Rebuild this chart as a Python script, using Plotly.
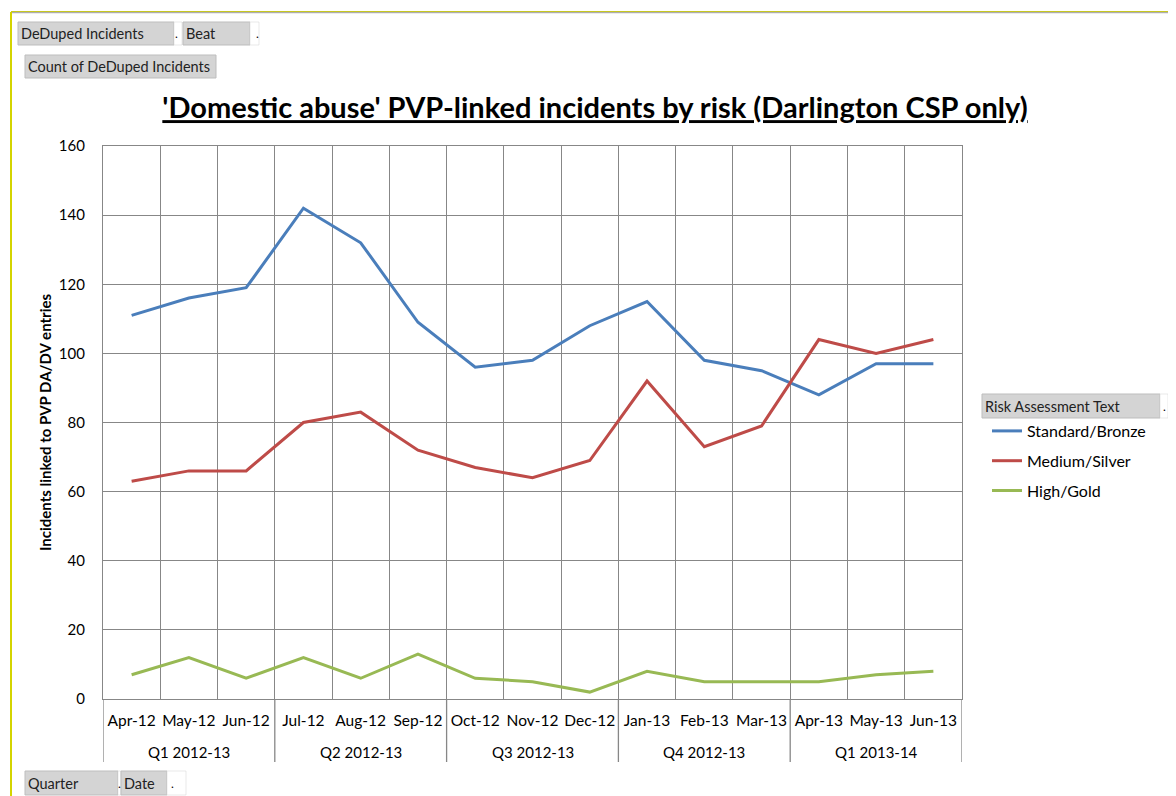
import plotly.graph_objects as go

months = ["Apr-12", "May-12", "Jun-12", "Jul-12", "Aug-12", "Sep-12", "Oct-12", "Nov-12",
          "Dec-12", "Jan-13", "Feb-13", "Mar-13", "Apr-13", "May-13", "Jun-13"]
quarters = ["Q1 2012-13", "Q2 2012-13", "Q3 2012-13", "Q4 2012-13", "Q1 2013-14"]
standard_bronze = [111, 116, 119, 142, 132, 109, 96, 98, 108, 115, 98, 95, 88, 97, 97]
medium_silver = [63, 66, 66, 80, 83, 72, 67, 64, 69, 92, 73, 79, 104, 100, 104]
high_gold = [7, 12, 6, 12, 6, 13, 6, 5, 2, 8, 5, 5, 5, 7, 8]

OFF = 8  # page body margin
W, H = 1176 - OFF, 796 - OFF
# plot area in screenshot pixels
L, R, T, B = 103, 962, 146, 699
pw, ph = R - L, B - T

def px(x):
    return (x - L) / pw

def py(y):
    return (B - y) / ph

FONT = "Lato, Calibri, sans-serif"
GRID = "#878787"

xpos = [i + 0.5 for i in range(len(months))]

fig = go.Figure()
series = [("Standard/Bronze", standard_bronze, "#4A7EBB"),
          ("Medium/Silver", medium_silver, "#BE4B48"),
          ("High/Gold", high_gold, "#98B954")]
for name, vals, col in series:
    fig.add_trace(go.Scatter(x=xpos, y=vals, mode="lines", name=name,
                             line=dict(color=col, width=3), legendgroup=name))

shapes = []
for q in range(len(quarters) + 1):
    shapes.append(dict(type="line", xref="x", yref="paper", x0=q * 3, x1=q * 3,
                       y0=0, y1=py(762), line=dict(color=GRID, width=1.3)))
shapes.append(dict(type="line", xref="paper", yref="paper", x0=px(11), x1=px(11),
                   y0=py(12), y1=py(800), line=dict(color="#D4D400", width=2)))
shapes.append(dict(type="line", xref="paper", yref="paper", x0=px(11), x1=px(1180),
                   y0=py(11.5), y1=py(11.5), line=dict(color="#C8C820", width=1)))
shapes.append(dict(type="line", xref="paper", yref="paper", x0=px(12), x1=px(1180),
                   y0=py(12.7), y1=py(12.7), line=dict(color="#9a9a9a", width=1)))

annotations = []
for q, qname in enumerate(quarters):
    annotations.append(dict(text=qname, x=q * 3 + 1.5, xref="x", y=py(752), yref="paper",
                            showarrow=False, font=dict(family=FONT, size=15, color="#000"),
                            xanchor="center", yanchor="middle"))

def button(x0, x1, y0, y1, text, size=14.5):
    shapes.append(dict(type="rect", xref="paper", yref="paper", x0=px(x0), x1=px(x1),
                       y0=py(y1), y1=py(y0), fillcolor="#D4D4D4",
                       line=dict(color="#BDBDBD", width=1)))
    annotations.append(dict(text=text, x=px(x0 + 1), y=py((y0 + y1) / 2), xref="paper",
                            yref="paper", showarrow=False, xanchor="left", yanchor="middle",
                            font=dict(family=FONT, size=size, color="#222")))

def whitebox(x0, x1, y0, y1, dotx):
    shapes.append(dict(type="rect", xref="paper", yref="paper", x0=px(x0), x1=px(x1),
                       y0=py(y1), y1=py(y0), fillcolor="#FFFFFF",
                       line=dict(color="#D0D0D0", width=0.5)))
    annotations.append(dict(text=".", x=px(dotx), y=py((y0 + y1) / 2), xref="paper",
                            yref="paper", showarrow=False, xanchor="center", yanchor="middle",
                            font=dict(family=FONT, size=12, color="#000")))

button(18, 174, 22, 45, "DeDuped Incidents")
whitebox(174, 182, 22, 45, 176)
button(183, 250, 22, 45, "Beat")
whitebox(250, 259, 22, 45, 257)
button(25, 216, 55, 78, "Count of DeDuped Incidents")
button(982, 1160, 394, 418, "Risk Assessment Text")
whitebox(1160, 1168, 394, 418, 1164)
button(25, 118, 771, 795, "Quarter")
whitebox(118, 121, 771, 795, 119.5)
button(121, 167, 771, 795, "Date")
whitebox(167, 186, 771, 795, 172)

fig.update_layout(
    width=W, height=H,
    margin=dict(l=L - OFF, r=W - (R - OFF), t=T - OFF, b=H - (B - OFF)),
    paper_bgcolor="white", plot_bgcolor="white",
    title=dict(text="<u>'Domestic abuse' PVP-linked incidents by risk (Darlington CSP only)</u>",
               x=(595 - OFF) / W, xref="container", xanchor="center",
               y=1 - (108 - OFF) / H, yref="container", yanchor="middle",
               font=dict(family=FONT, size=29, color="#000", weight="bold")),
    xaxis=dict(range=[0, 15], tickvals=xpos, ticktext=months, showgrid=False,
               ticks="outside", ticklen=7, tickcolor="rgba(0,0,0,0)",
               tickfont=dict(family=FONT, size=15.5, color="#000"),
               showline=True, linecolor=GRID, linewidth=1.3, mirror=True,
               minor=dict(dtick=1, tick0=0, showgrid=True, gridcolor=GRID, gridwidth=1.3),
               zeroline=False, fixedrange=True),
    yaxis=dict(range=[0, 160], dtick=20, showgrid=True, gridcolor=GRID, gridwidth=1.3,
               ticks="outside", ticklen=14, tickcolor="rgba(0,0,0,0)",
               tickfont=dict(family=FONT, size=15, color="#000"),
               showline=True, linecolor=GRID, linewidth=1.3, mirror=True, zeroline=False,
               title=dict(text="Incidents linked to PVP DA/DV entries", standoff=3,
                          font=dict(family=FONT, size=15, color="#000", weight="bold"))),
    legend=dict(x=px(987), y=py(414), xanchor="left", yanchor="top",
                font=dict(family=FONT, size=16, color="#000"), tracegroupgap=6,
                bgcolor="rgba(0,0,0,0)"),
    shapes=shapes, annotations=annotations, showlegend=True,
)

fig.write_html("out.html")
